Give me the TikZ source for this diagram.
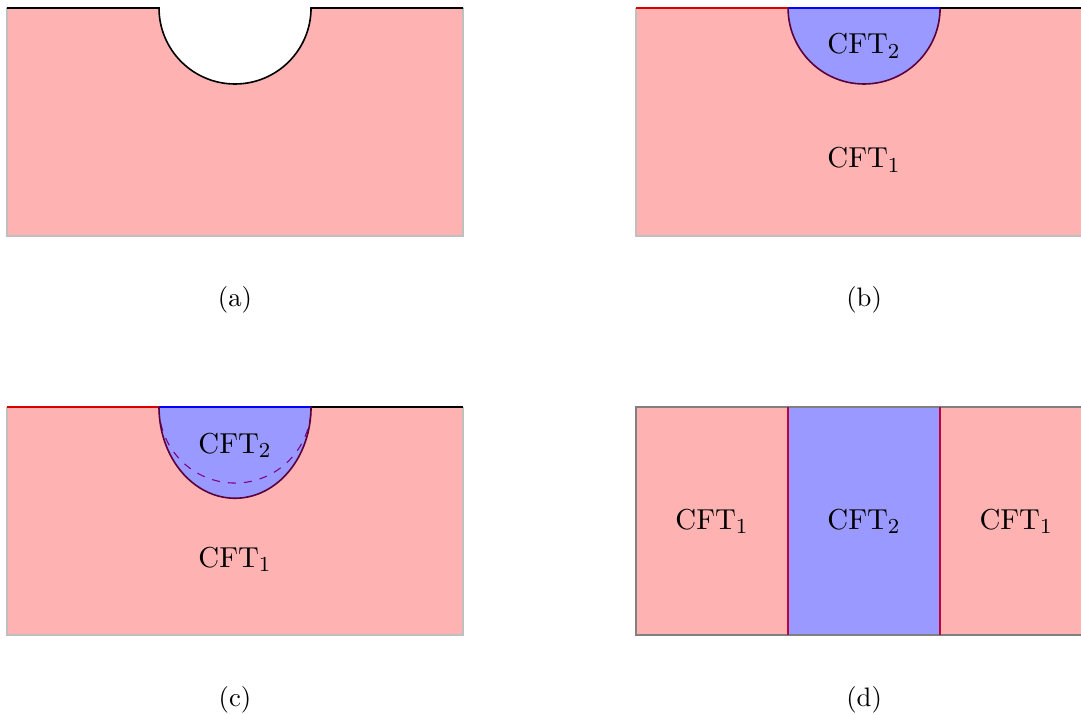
\documentclass[tikz,border=0pt]{standalone}
\usepackage{tikz}

\definecolor{edgepurple}{RGB}{90,0,60}
\tikzset{
  bulk/.style={fill=red!30},
  defect/.style={fill=blue!40},
  frame/.style={draw=gray!50,semithick},
  rim/.style={draw=edgepurple,semithick},
  lab/.style={font=\fontsize{10.8}{13}\selectfont},
}

\begin{document}
\begin{tikzpicture}
  \useasboundingbox (-0.092,0.105) rectangle (14.13,-9.30);
  % (a) Hull
  \begin{scope}
    \fill[bulk] (0,0) -- (2,0) arc (180:360:1) -- (6,0) -- (6,-3) -- (0,-3) -- cycle;
    \draw[frame] (0,0) -- (0,-3) -- (6,-3) -- (6,0);
    \draw[semithick] (0,0) -- (2,0) arc (180:360:1) -- (6,0);
    \node (capA) at (3,-3.84) {(a)};
  \end{scope}
  % (b) Halvsirkel
  \begin{scope}[shift={(8.276,0)}]
    \fill[bulk] (0,0) rectangle (6,-3);
    \draw[frame] (0,0) -- (0,-3) -- (6,-3);
    \fill[defect] (2,0) arc (180:360:1) -- cycle;
    \draw[semithick,red!85!black] (0,0) -- (2,0);
    \draw[semithick,blue] (2,0) -- (4,0);
    \draw[semithick] (4,0) -- (6,0);
    \draw[rim] (2,0) arc (180:360:1);
    \node[lab] (cftTwoB) at (3,-0.5) {CFT$_2$};
    \node[lab] (cftOneB) at (3,-2) {CFT$_1$};
    \node (capB) at (3,-3.84) {(b)};
  \end{scope}
  % (c) Halvellipse
  \begin{scope}[shift={(0,-5.25)}]
    \fill[bulk] (0,0) rectangle (6,-3);
    \draw[frame] (0,0) -- (0,-3) -- (6,-3) -- (6,0);
    \fill[defect] (2,0) arc (180:360:1 and 1.2) -- cycle;
    \draw[violet,dashed] (2,0) arc (180:360:1);
    \draw[semithick,red!85!black] (0,0) -- (2,0);
    \draw[semithick,blue] (2,0) -- (4,0);
    \draw[semithick] (4,0) -- (6,0);
    \draw[rim] (2,0) arc (180:360:1 and 1.2);
    \node[lab] (cftTwoC) at (3,-0.5) {CFT$_2$};
    \node[lab] (cftOneC) at (3,-2) {CFT$_1$};
    \node (capC) at (3,-3.855) {(c)};
  \end{scope}
  % (d) Stripe
  \begin{scope}[shift={(8.276,-5.25)}]
    \fill[bulk] (0,0) rectangle (6,-3);
    \fill[defect] (2,0) rectangle (4,-3);
    \draw[gray,semithick] (6,0) -- (0,0) -- (0,-3) -- (6,-3);
    \draw[purple,semithick] (2,0) -- (2,-3);
    \draw[purple,semithick] (4,0) -- (4,-3);
    \node[lab] (cftOneL) at (1,-1.5) {CFT$_1$};
    \node[lab] (cftTwoD) at (3,-1.5) {CFT$_2$};
    \node[lab] (cftOneR) at (5,-1.5) {CFT$_1$};
    \node (capD) at (3,-3.855) {(d)};
  \end{scope}
\end{tikzpicture}
\end{document}
